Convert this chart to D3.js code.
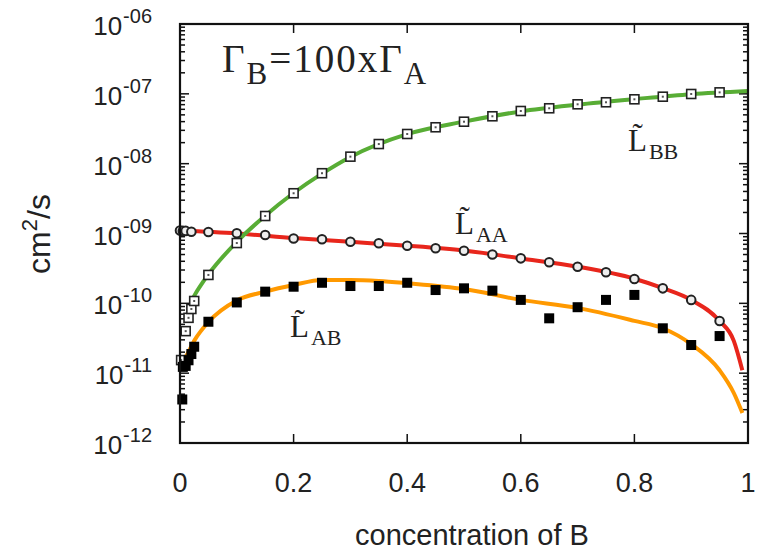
<!DOCTYPE html>
<html lang="en">
<head>
<meta charset="utf-8">
<title>Onsager coefficients vs concentration</title>
<style>
  body { margin:0; background:#fff; }
  svg { display:block; }
  .tick text, .lab { font-family:"Liberation Sans", Arial, sans-serif; fill:#222; }
  .serif { font-family:"Liberation Serif", "DejaVu Serif", serif; fill:#222; }
</style>
</head>
<body>
<script src="https://d3js.org/d3.v7.min.js"></script>
<script>
// ---- data ----
// L_BB (open squares)
const bbX = [0.002, 0.01, 0.015, 0.02, 0.025, 0.05, 0.1, 0.15, 0.2, 0.25, 0.3, 0.35, 0.4, 0.45, 0.5, 0.55, 0.6, 0.65, 0.7, 0.75, 0.8, 0.85, 0.9, 0.95];
const bbY = [1.54e-11, 4.0e-11, 6.2e-11, 8.3e-11, 1.08e-10, 2.55e-10, 7.3e-10, 1.78e-9, 3.77e-9, 7.3e-9, 1.26e-8, 1.91e-8, 2.66e-8, 3.32e-8, 3.99e-8, 4.77e-8, 5.68e-8, 6.21e-8, 7.08e-8, 7.57e-8, 8.35e-8, 9.1e-8, 9.95e-8, 1.05e-7];
// L_AA (open circles)
const aaX = [0, 0.005, 0.01, 0.02, 0.05, 0.1, 0.15, 0.2, 0.25, 0.3, 0.35, 0.4, 0.45, 0.5, 0.55, 0.6, 0.65, 0.7, 0.75, 0.8, 0.85, 0.9, 0.95];
const aaY = [1.10e-9, 1.09e-9, 1.09e-9, 1.06e-9, 1.05e-9, 1.01e-9, 9.5e-10, 8.5e-10, 8.26e-10, 7.63e-10, 7.24e-10, 6.68e-10, 6.14e-10, 5.67e-10, 5.0e-10, 4.41e-10, 3.87e-10, 3.34e-10, 2.78e-10, 2.23e-10, 1.64e-10, 1.12e-10, 5.58e-11];
// L_AB (filled squares)
const abX = [0.004, 0.005, 0.01, 0.015, 0.02, 0.025, 0.05, 0.1, 0.15, 0.2, 0.25, 0.3, 0.35, 0.4, 0.45, 0.5, 0.55, 0.6, 0.65, 0.7, 0.75, 0.8, 0.85, 0.9, 0.95];
const abY = [4.2e-12, 1.23e-11, 1.27e-11, 1.53e-11, 1.88e-11, 2.39e-11, 5.45e-11, 1.03e-10, 1.47e-10, 1.73e-10, 1.97e-10, 1.77e-10, 1.77e-10, 1.97e-10, 1.55e-10, 1.64e-10, 1.52e-10, 1.12e-10, 6.1e-11, 8.8e-11, 1.12e-10, 1.32e-10, 4.39e-11, 2.53e-11, 3.4e-11];

// model curves
const bbLineX = [0.022, 0.03, 0.04, 0.05, 0.1, 0.15, 0.2, 0.25, 0.3, 0.4, 0.5, 0.6, 0.7, 0.8, 0.9, 1.0];
const bbLineY = [1.15e-10, 1.5e-10, 2.0e-10, 2.6e-10, 7.6e-10, 1.8e-9, 3.8e-9, 7.2e-9, 1.25e-8, 2.65e-8, 4.0e-8, 5.6e-8, 7.0e-8, 8.4e-8, 9.9e-8, 1.1e-7];
const aaLineX = [0, 0.1, 0.2, 0.3, 0.4, 0.5, 0.6, 0.7, 0.8, 0.85, 0.9, 0.95, 0.975, 0.99];
const aaLineY = [1.1e-9, 1.0e-9, 8.6e-10, 7.6e-10, 6.7e-10, 5.7e-10, 4.4e-10, 3.35e-10, 2.25e-10, 1.65e-10, 1.12e-10, 5.6e-11, 2.9e-11, 1.1e-11];
const abLineX = [0.003, 0.01, 0.026, 0.05, 0.1, 0.15, 0.2, 0.25, 0.3, 0.35, 0.4, 0.5, 0.6, 0.7, 0.8, 0.85, 0.9, 0.95, 0.975, 0.99];
const abLineY = [1.4e-11, 1.7e-11, 3.0e-11, 5.4e-11, 1.1e-10, 1.47e-10, 1.83e-10, 2.16e-10, 2.16e-10, 2.09e-10, 1.94e-10, 1.6e-10, 1.12e-10, 8.6e-11, 5.6e-11, 4.4e-11, 2.6e-11, 1.1e-11, 5.2e-12, 2.7e-12];

const xTicks = [0, 0.2, 0.4, 0.6, 0.8, 1];
const xTickLabels = ["0", "0.2", "0.4", "0.6", "0.8", "1"];
const yExps = [-6, -7, -8, -9, -10, -11, -12];
const yExpLabels = ["-06", "-07", "-08", "-09", "-10", "-11", "-12"];

// ---- layout ----
const W = 757, H = 554;
const L = 180, R = 748, T = 24, B = 443;

const svg = d3.select("body").append("svg").attr("width", W).attr("height", H);

const x = d3.scaleLinear().domain([0, 1]).range([L, R]);
const y = d3.scaleLog().domain([1e-12, 1e-6]).range([B, T]);

// minor ticks of the log axis
const minor = [];
for (let e = -12; e < -6; e++) for (let k = 2; k <= 9; k++) minor.push(k * Math.pow(10, e));

const ax = svg.append("g").attr("stroke", "#111").attr("stroke-width", 1.5);
// left / right ticks
[[L, 1], [R, -1]].forEach(([x0, dir]) => {
  ax.selectAll(null).data(yExps).join("line")
    .attr("x1", x0).attr("x2", x0 + dir * 9)
    .attr("y1", d => y(Math.pow(10, d))).attr("y2", d => y(Math.pow(10, d)));
  ax.selectAll(null).data(minor).join("line")
    .attr("x1", x0).attr("x2", x0 + dir * 5)
    .attr("y1", d => y(d)).attr("y2", d => y(d));
});
// bottom / top ticks
[[B, -1], [T, 1]].forEach(([y0, dir]) => {
  ax.selectAll(null).data(xTicks).join("line")
    .attr("x1", d => x(d)).attr("x2", d => x(d))
    .attr("y1", y0).attr("y2", y0 + dir * 9);
});

// curves
const line = d3.line().curve(d3.curveMonotoneX).x(d => x(d[0])).y(d => y(d[1]));
const curves = [
  { xs: abLineX, ys: abLineY, color: "#ff9900" },
  { xs: aaLineX, ys: aaLineY, color: "#e8261c" },
  { xs: bbLineX, ys: bbLineY, color: "#58ad35" }
];
svg.append("g").selectAll("path").data(curves).join("path")
  .attr("d", c => line(d3.zip(c.xs, c.ys)))
  .attr("fill", "none")
  .attr("stroke", c => c.color)
  .attr("stroke-width", 4);

// markers
const pts = svg.append("g");
pts.selectAll(".bb").data(d3.zip(bbX, bbY)).join("rect")
  .attr("x", d => x(d[0]) - 4.5).attr("y", d => y(d[1]) - 4.5)
  .attr("width", 9).attr("height", 9)
  .attr("fill", "#fff").attr("stroke", "#222").attr("stroke-width", 1.6);
pts.selectAll(".bbc").data(d3.zip(bbX, bbY)).join("rect")
  .attr("x", d => x(d[0]) - 1).attr("y", d => y(d[1]) - 1)
  .attr("width", 2).attr("height", 2).attr("fill", "#555");
pts.selectAll(".aa").data(d3.zip(aaX, aaY)).join("circle")
  .attr("cx", d => x(d[0])).attr("cy", d => y(d[1])).attr("r", 4.3)
  .attr("fill", "#eee").attr("stroke", "#222").attr("stroke-width", 2);
pts.selectAll(".ab").data(d3.zip(abX, abY)).join("rect")
  .attr("x", d => x(d[0]) - 5).attr("y", d => y(d[1]) - 5)
  .attr("width", 10).attr("height", 10).attr("fill", "#000");

// frame
svg.append("rect").attr("x", L).attr("y", T).attr("width", R - L).attr("height", B - T)
  .attr("fill", "none").attr("stroke", "#111").attr("stroke-width", 2.2);

// tick labels
const tl = svg.append("g").attr("class", "tick");
tl.selectAll("text").data(xTicks).join("text")
  .attr("x", d => x(d)).attr("y", 492)
  .attr("text-anchor", "middle").style("font-size", "27px")
  .text((d, i) => xTickLabels[i]);
const yl = svg.append("g").attr("class", "tick");
yExps.forEach((e, i) => {
  const py = y(Math.pow(10, e));
  const t = yl.append("text").attr("x", 152).attr("y", py + 11)
    .attr("text-anchor", "end");
  t.append("tspan").style("font-size", "26px").text("10");
  t.append("tspan").attr("dy", -12).attr("dx", 1).style("font-size", "20px").text(yExpLabels[i]);
});

// axis titles
svg.append("text").attr("class", "lab")
  .attr("x", 472).attr("y", 545).attr("text-anchor", "middle")
  .style("font-size", "29px").text("concentration of B");
const yt = svg.append("text").attr("class", "lab")
  .attr("transform", "translate(50,234) rotate(-90)")
  .attr("text-anchor", "middle").style("font-size", "32px");
yt.append("tspan").text("cm");
yt.append("tspan").attr("dy", -13).style("font-size", "22px").text("2");
yt.append("tspan").attr("dy", 13).text("/s");

// annotations
const g1 = svg.append("text").attr("class", "serif").attr("x", 222).attr("y", 72)
  .style("font-size", "39px").style("letter-spacing", "2px");
g1.append("tspan").text("Γ");
g1.append("tspan").attr("dy", 12).style("font-size", "31px").text("B");
g1.append("tspan").attr("dy", -12).text("=100xΓ");
g1.append("tspan").attr("dy", 12).style("font-size", "31px").text("A");

const labels = [
  { x: 628, y: 151, sub: "BB" },
  { x: 455, y: 234, sub: "AA" },
  { x: 290, y: 337, sub: "AB" }
];
labels.forEach(l => {
  const t = svg.append("text").attr("class", "serif").attr("x", l.x).attr("y", l.y)
    .style("font-size", "31px");
  t.append("tspan").text("L\u0303");
  t.append("tspan").attr("dx", 2).attr("dy", 8).style("font-size", "22px").text(l.sub);
});
</script>
</body>
</html>
